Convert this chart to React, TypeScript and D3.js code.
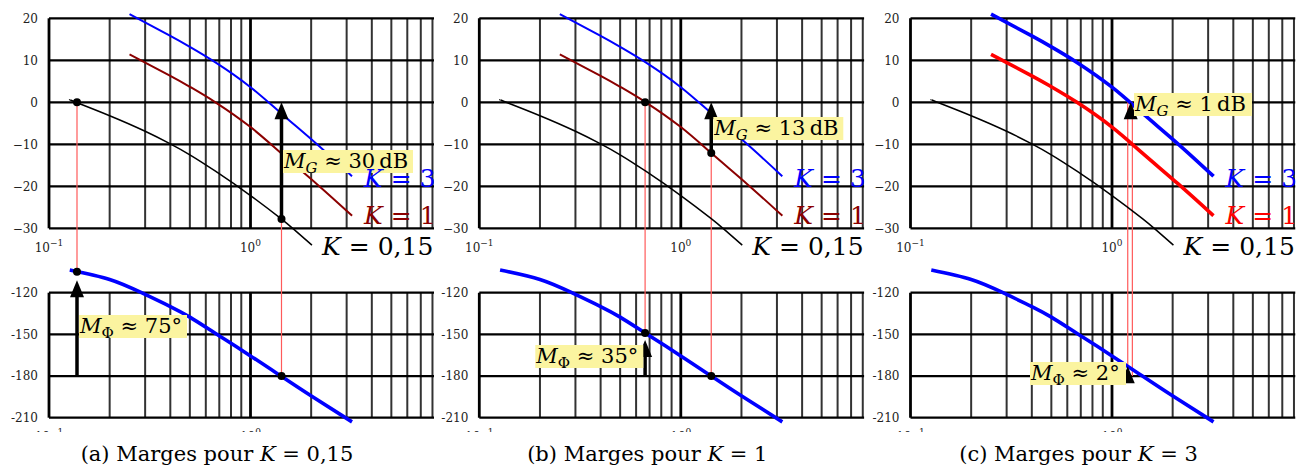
import React from 'react'
import * as d3 from 'd3'

const wK3 = [0.251, 0.4, 0.5, 0.67, 1.0, 1.416, 2.138, 3.19]
const dbK3 = [21.0, 15.8, 13.2, 9.5, 3.6, -2.6, -10.0, -17.6]
const wK1 = [0.251, 0.4, 0.5, 0.67, 1.0, 1.416, 2.138, 3.19]
const dbK1 = [11.4, 6.3, 3.7, 0, -5.9, -12.1, -19.5, -27.0]
const wK015 = [0.1268, 0.136, 0.2, 0.3, 0.4, 0.5, 0.67, 1.0, 1.416, 1.637, 2.018]
const dbK015 = [0.6, 0, -3.2, -6.9, -9.9, -12.5, -16.4, -22.2, -27.7, -30.2, -34.0]

// phase curve (same for every K)
const wPhase = [0.1268, 0.2, 0.2877, 0.4, 0.5, 0.665, 1.0, 1.416, 2.014, 3.19]
const degPhase = [-103.7, -110.5, -120, -130, -137.6, -149, -165.5, -180, -194.6, -213]

const gainTicks = [20, 10, 0, -10, -20, -30]
const phaseTicks = [-120, -150, -180, -210]
const decadeTicks = [0.1, 1]

// one entry per sub-figure
const captionTag = ['(a)', '(b)', '(c)']
const captionK = ['0,15', '1', '3']
const gainMargin = ['30', '13', '1']
const phaseMargin = ['75', '35', '2']
const redLineW = [[0.1377, 1.425], [0.665, 1.416], [1.197, 1.262]]
const redLineDb = [[0, -27.8], [0, -12.1], [0, 0]]
const redLineDeg = [[-105, -180], [-149, -180], [-180, -180]]
const gainArrowW = [1.425, 1.416, 1.238]
const gainArrowFrom = [-27.8, -12.1, -1]
const phaseArrowW = [0.1377, 0.665, 1.197]
const phaseArrowTo = [-111, -154, -173]
const showDots = [true, true, false]

const FONT = "'DejaVu Serif', serif"
const OX = [49, 479.3, 910.5]
const PW = 385
const YELLOW = '#fbf4a0'
const RED_LINE = '#ff5a5a'

const x = d3.scaleLog().domain([0.1, 10]).range([0, 403])
const yG = d3.scaleLinear().domain([20, -30]).range([18.3, 228.3])
const yP = d3.scaleLinear().domain([-120, -210]).range([292.7, 417.7])

const gridW = d3.range(1, 10).map(d => d / 10).concat(d3.range(1, 10))

const zip = (ws: number[], vs: number[]) => ws.map((w, i) => [w, vs[i]] as [number, number])

function Arrow({ px, from, to }: { px: number; from: number; to: number }) {
  const head = 17
  return (
    <g>
      {from > to + head && (
        <line x1={px} x2={px} y1={from} y2={to + head - 1} stroke="#000" strokeWidth={3.5} />
      )}
      <polygon points={`${px},${to} ${px - 7},${to + head} ${px + 7},${to + head}`} fill="#000" />
    </g>
  )
}

function KLabel({ x0, y0, color, value }: { x0: number; y0: number; color: string; value: string }) {
  return (
    <text x={x0} y={y0} fontSize={25} fontFamily={FONT} fill={color}>
      <tspan fontStyle="italic">K</tspan>
      <tspan dx={8}>=</tspan>
      <tspan dx={8}>{value}</tspan>
    </text>
  )
}

function Panel({ i }: { i: number }) {
  const ox = OX[i]
  const thick = i === 2
  const gainLine = d3.line<[number, number]>().x(d => x(d[0])).y(d => yG(d[1])).curve(d3.curveNatural)
  const phaseLine = d3.line<[number, number]>().x(d => x(d[0])).y(d => yP(d[1])).curve(d3.curveNatural)
  const redColor = thick ? '#ff0000' : '#8b0000'
  const blockG = [yG(20), yG(-30)]
  const blockP = [yP(-120), yP(-210)]

  const grid = (y0: number, y1: number) => (
    <g>
      {gridW.map(w => {
        const major = decadeTicks.includes(w)
        return (
          <line key={w} x1={x(w)} x2={x(w)} y1={y0} y2={y1}
            stroke={major ? '#000' : '#333'} strokeWidth={major ? 2.8 : 2} />
        )
      })}
    </g>
  )

  const mgBox = [[234, 150, 130], [234, 117, 130], [223.5, 93, 118]][i]
  const mpBox = [[30, 315, 108], [56, 345, 108], [119.5, 362, 96]][i]

  return (
    <g transform={`translate(${ox},0)`} clipPath={`url(#clip${i})`}>
      <clipPath id={`clip${i}`}>
        <rect x={-49} y={0} width={PW + 49} height={470} />
      </clipPath>
      {/* gain grid */}
      {grid(blockG[0], blockG[1])}
      {gainTicks.map(t => (
        <line key={t} x1={0} x2={PW} y1={yG(t)} y2={yG(t)} stroke="#000" strokeWidth={2.2} />
      ))}
      {gainTicks.map(t => (
        <text key={t} x={-11} y={yG(t)} dy="0.35em" textAnchor="end" fontSize={12} fontFamily={FONT} fill="#222">
          {t < 0 ? '\u2212' + Math.abs(t) : t}
        </text>
      ))}
      {decadeTicks.map((t, k) => (
        <text key={t} x={x(t)} y={252} textAnchor="middle" fontSize={12} fontFamily={FONT} fill="#222">
          10<tspan dy={-6} fontSize={9}>{k === 0 ? '\u22121' : '0'}</tspan>
        </text>
      ))}
      {/* phase grid */}
      {grid(blockP[0], blockP[1])}
      {phaseTicks.map(t => (
        <line key={t} x1={0} x2={PW} y1={yP(t)} y2={yP(t)} stroke="#000" strokeWidth={2.2} />
      ))}
      {phaseTicks.map(t => (
        <text key={t} x={-11} y={yP(t)} dy="0.35em" textAnchor="end" fontSize={12} fontFamily={FONT} fill="#222">
          {String(t)}
        </text>
      ))}
      {decadeTicks.map((t, k) => (
        <text key={t} x={x(t)} y={441} textAnchor="middle" fontSize={12} fontFamily={FONT} fill="#222">
          10<tspan dy={-6} fontSize={9}>{k === 0 ? '\u22121' : '0'}</tspan>
        </text>
      ))}

      {/* red construction lines */}
      {redLineW[i].map((w, k) => (
        <line key={k} x1={x(w)} x2={x(w)} y1={yG(redLineDb[i][k])} y2={yP(redLineDeg[i][k])}
          stroke={RED_LINE} strokeWidth={1.2} />
      ))}

      {/* curves */}
      <path d={gainLine(zip(wK015, dbK015)) || ''} fill="none" stroke="#000" strokeWidth={1.5} />
      <path d={gainLine(zip(wK1, dbK1)) || ''} fill="none" stroke={redColor} strokeWidth={thick ? 3.6 : 2} />
      <path d={gainLine(zip(wK3, dbK3)) || ''} fill="none" stroke="#0000ff" strokeWidth={thick ? 3.6 : 2} />
      <path d={phaseLine(zip(wPhase, degPhase)) || ''} fill="none" stroke="#0000ff" strokeWidth={3.6} />

      {/* arrows */}
      <Arrow px={x(gainArrowW[i])} from={yG(gainArrowFrom[i])} to={yG(0)} />
      <Arrow px={x(phaseArrowW[i])} from={yP(-180)} to={yP(phaseArrowTo[i])} />

      {showDots[i] && redLineW[i].map((w, k) => (
        <g key={k}>
          <circle cx={x(w)} cy={yG(redLineDb[i][k])} r={4} fill="#000" />
          <circle cx={x(w)} cy={yP(redLineDeg[i][k])} r={4} fill="#000" />
        </g>
      ))}

      {/* margin labels */}
      <rect x={mgBox[0]} y={mgBox[1]} width={mgBox[2]} height={23} fill={YELLOW} />
      <text x={mgBox[0] + 1} y={mgBox[1] + 18} fontSize={21} fontFamily={FONT} fill="#000">
        <tspan fontStyle="italic">M</tspan>
        <tspan fontStyle="italic" fontSize={15} dy={5}>G</tspan>
        <tspan dy={-5}>{' \u2248 ' + gainMargin[i] + '\u2009dB'}</tspan>
      </text>
      <rect x={mpBox[0]} y={mpBox[1]} width={mpBox[2]} height={23} fill={YELLOW} />
      <text x={mpBox[0] + 1} y={mpBox[1] + 18} fontSize={21} fontFamily={FONT} fill="#000">
        <tspan fontStyle="italic">M</tspan>
        <tspan fontSize={15} dy={5}>{'\u03a6'}</tspan>
        <tspan dy={-5}>{' \u2248 ' + phaseMargin[i] + '\u00b0'}</tspan>
      </text>

      {/* curve names */}
      <KLabel x0={315} y0={187} color="#0000ff" value="3" />
      <KLabel x0={315} y0={224} color={redColor} value="1" />
      <KLabel x0={273} y0={255} color="#000" value="0,15" />
    </g>
  )
}

export default function App() {
  return (
    <svg width={1304} height={470} style={{ position: 'absolute', left: 0, top: 0, background: '#fff' }}>
      {[0, 1, 2].map(i => <Panel key={i} i={i} />)}
      <rect x={0} y={432} width={1304} height={38} fill="#fff" />
      {[0, 1, 2].map(i => (
        <text key={i} x={OX[i] + 168} y={461} textAnchor="middle" fontSize={21} fontFamily={FONT} fill="#000">
          {captionTag[i] + ' Marges pour '}
          <tspan fontStyle="italic">K</tspan>
          {' = ' + captionK[i]}
        </text>
      ))}
    </svg>
  )
}
